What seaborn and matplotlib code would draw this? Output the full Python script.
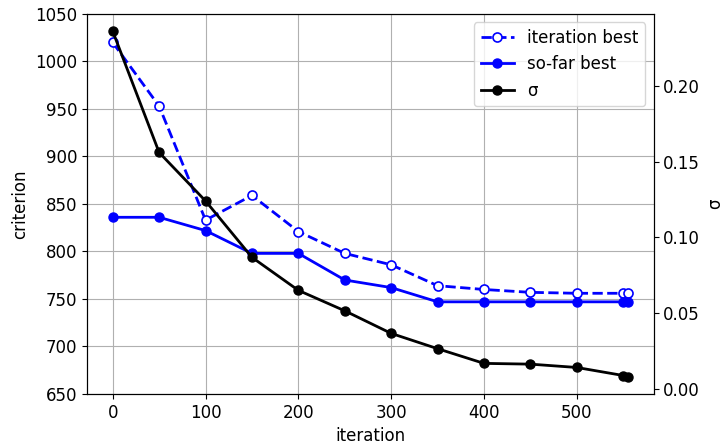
import matplotlib
matplotlib.use("Agg")
import matplotlib.pyplot as plt
import matplotlib.ticker as mticker
import seaborn as sns

iterations = [0, 50, 100, 150, 200, 250, 300, 350, 400, 450, 500, 550, 555]
iteration_best = [1020, 953, 833, 859, 821, 798, 786, 764, 760, 757, 756, 756, 756]
so_far_best = [836, 836, 822, 798, 798, 770, 762, 747, 747, 747, 747, 747, 747]
sigma = [0.236, 0.156, 0.124, 0.0868, 0.065, 0.0515, 0.0366, 0.0265, 0.0168,
         0.0163, 0.0141, 0.0088, 0.0080]

plt.rcParams['font.family'] = ['DejaVu Sans']
plt.rcParams['font.size'] = 12

fig, ax = plt.subplots(figsize=(7.23, 4.47), dpi=100)
fig.subplots_adjust(left=0.1203, right=0.904, top=0.9687, bottom=0.1186)

sns.lineplot(x=iterations, y=iteration_best, ax=ax, color='b', linestyle='--',
             marker='o', markerfacecolor='white', markeredgecolor='b',
             markeredgewidth=1.2, markersize=6.5, linewidth=2, label='iteration best',
             legend=False, sort=False, estimator=None)
sns.lineplot(x=iterations, y=so_far_best, ax=ax, color='b', linestyle='-',
             marker='o', markerfacecolor='b', markeredgecolor='b',
             markeredgewidth=1, markersize=6.5, linewidth=2, label='so-far best',
             legend=False, sort=False, estimator=None)
ax.set_ylim(650, 1050)
ax.set_xlabel('iteration', fontsize=12)
ax.set_ylabel('criterion', fontsize=12)
ax.grid(True, color='#b0b0b0', linewidth=0.8)
ax.set_axisbelow(True)
ax.tick_params(labelsize=12)

ax2 = ax.twinx()
sns.lineplot(x=iterations, y=sigma, ax=ax2, color='k', linestyle='-',
             marker='o', markerfacecolor='k', markeredgecolor='k',
             markeredgewidth=1, markersize=6.5, linewidth=2, label='σ',
             legend=False, sort=False, estimator=None)
ax2.set_ylabel('σ', fontsize=12)
ax2.tick_params(labelsize=12)
ax2.yaxis.set_major_formatter(mticker.FormatStrFormatter('%.2f'))
ax2.set_yticks([0.0, 0.05, 0.10, 0.15, 0.20])
ax2.margins(y=0.05)

h1, l1 = ax.get_legend_handles_labels()
h2, l2 = ax2.get_legend_handles_labels()
ax2.legend(h1 + h2, l1 + l2, loc='upper right', fontsize=12, frameon=True)

fig.savefig('out.png', dpi=100)
